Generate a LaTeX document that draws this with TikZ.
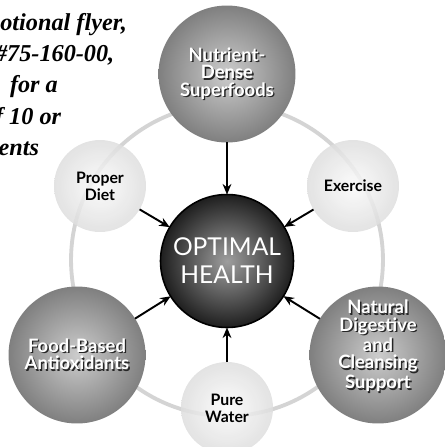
\documentclass[tikz,border=0pt]{standalone}
\usepackage{fontspec}
\setmainfont{Lato}
\newfontfamily\flyerfont{Liberation Serif}
\usetikzlibrary{arrows.meta}

\newcommand{\shadowtext}[1]{\makebox[0pt][l]{\hspace{0.8pt}\raisebox{-0.8pt}{\textcolor{black!85}{#1}}}#1}

\begin{document}
\begin{tikzpicture}[
    x=0.02cm, y=-0.02cm,
    disc/.style={circle, inner sep=0pt, outer sep=0pt, align=center, shading=radial},
    bigdisc/.style={disc, minimum size=2.74cm, inner color=black!20, outer color=black!50, text=white, font=\bfseries\fontsize{10.5}{10}\selectfont},
    smalldisc/.style={disc, minimum size=1.84cm, inner color=black!2, outer color=black!13, fill opacity=0.85, text opacity=1, font=\bfseries\fontsize{9}{9.8}\selectfont},
    core/.style={disc, draw=black, line width=0.9pt, minimum size=2.66cm, inner color=black!38, outer color=black!88, text=white, font=\fontsize{14}{15.9}\selectfont},
    ring/.style={draw=black!17, line width=2.2pt},
    arrow/.style={-{Stealth[length=6pt,width=5pt]}, line width=1.1pt},
    flyer/.style={font=\flyerfont\bfseries\itshape\fontsize{13.8}{17.8}\selectfont, align=left, anchor=north west, inner sep=0pt}
]
\useasboundingbox (0,0) rectangle (445,447);

% Ring behind the circles
\draw[ring] (227,260) circle[radius=3.12cm];

% Flyer note, cut at the left edge
\node[flyer] (flyer) at (0,13) {otional flyer,\\\hspace*{-3pt}\#75-160-00,\\\hspace*{5.5pt}for a\\\hspace*{-3pt}f 10 or\\\hspace*{-1pt}ents};

% Nodes
\node[core] (health) at (227,261) {OPTIMAL\\HEALTH};
\node[bigdisc] (superfoods) at (227,74) {\shadowtext{Nutrient-}\\\shadowtext{Dense}\\\shadowtext{Superfoods}};
\node[smalldisc] (diet) at (100,186) {Proper\\Diet};
\node[smalldisc] (exercise) at (353,186) {Exercise};
\node[bigdisc] (antiox) at (77,355) {\shadowtext{Food-Based}\\\shadowtext{Antioxidants}};
\node[bigdisc, text depth=12pt] (digestive) at (378,355) {\shadowtext{Natural}\\\shadowtext{Digestive}\\\shadowtext{and}\\\shadowtext{Cleansing}\\\shadowtext{Support}};
\node[smalldisc] (water) at (227,408) {Pure\\Water};

% Arrows
\draw[arrow] (superfoods) -- (health);
\draw[arrow] (diet) -- (health);
\draw[arrow] (exercise) -- (health);
\draw[arrow] (antiox) -- (health);
\draw[arrow] (digestive) -- (health);
\draw[arrow] (water) -- (health);

\end{tikzpicture}
\end{document}
